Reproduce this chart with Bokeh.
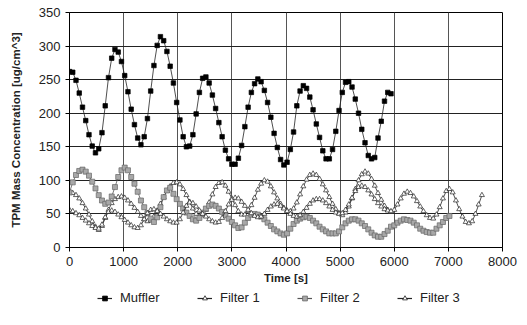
from bokeh.plotting import figure
from bokeh.layouts import column
from bokeh.models import Legend, LegendItem, FixedTicker, Range1d
from bokeh.embed import file_html
from bokeh.resources import INLINE

STEP = 60

muffler = [262, 261, 249, 230, 209, 189, 168, 151, 141, 147,
           171, 211, 253, 282, 295, 291, 277, 256, 232, 206,
           183, 163, 153, 165, 192, 233, 271, 301, 314, 308,
           292, 270, 245, 216, 190, 165, 150, 151, 168, 199,
           231, 252, 254, 245, 227, 207, 186, 165, 145, 132,
           124, 124, 133, 152, 180, 209, 231, 244, 251, 247,
           234, 216, 194, 170, 149, 131, 123, 127, 146, 172,
           211, 233, 241, 237, 224, 205, 184, 164, 144, 132,
           132, 146, 173, 204, 231, 246, 247, 239, 221, 200,
           176, 156, 137, 132, 134, 163, 188, 218, 231, 229]

filter1 = [82, 81, 78, 73, 66, 58, 49, 39, 31, 26,
           32, 44, 56, 66, 72, 75, 76, 74, 70, 65,
           59, 53, 47, 42, 39, 40, 46, 55, 65, 75,
           84, 91, 96, 97, 94, 87, 78, 68, 58, 50,
           46, 48, 56, 67, 79, 90, 96, 97, 92, 83,
           73, 63, 54, 49, 49, 54, 63, 74, 86, 95,
           100, 98, 91, 82, 73, 65, 59, 55, 54, 58,
           67, 79, 91, 101, 108, 110, 108, 102, 94, 85,
           75, 65, 57, 51, 48, 52, 61, 73, 87, 100,
           109, 113, 110, 102, 92, 81, 71, 62, 56, 53,
           56, 64, 73, 80, 83, 81, 76, 69, 61, 54,
           48, 44, 43, 49, 60, 73, 84, 87, 82, 70,
           57, 46, 38, 36, 39, 50, 64, 78]

filter2 = [82, 97, 108, 114, 116, 113, 107, 98, 88, 78,
           70, 65, 67, 76, 90, 105, 115, 119, 115, 105,
           95, 83, 70, 60, 51, 43, 38, 45, 60, 75,
           85, 89, 80, 72, 65, 58, 52, 47, 42, 40,
           44, 52, 58, 62, 64, 62, 58, 53, 48, 43,
           38, 33, 29, 30, 37, 44, 49, 50, 49, 46,
           42, 37, 32, 27, 24, 21, 19, 21, 28, 35,
           40, 43, 45, 46, 44, 40, 36, 31, 27, 24,
           21, 21, 21, 24, 30, 36, 40, 42, 42, 40,
           36, 32, 27, 22, 18, 16, 16, 20, 25, 31,
           33, 37, 40, 42, 41, 40, 37, 33, 28, 25,
           23, 22, 22, 28, 33, 38, 44, 47]

filter3 = [56, 54, 51, 48, 44, 40, 36, 32, 29, 28,
           34, 45, 53, 55, 53, 49, 45, 41, 37, 33,
           30, 29, 33, 42, 51, 56, 57, 54, 50, 46,
           42, 39, 37, 37, 42, 52, 62, 67, 66, 61,
           55, 50, 46, 42, 39, 37, 38, 44, 54, 64,
           71, 74, 73, 68, 62, 56, 51, 47, 45, 46,
           50, 56, 61, 64, 65, 62, 58, 54, 50, 47,
           46, 48, 53, 59, 65, 70, 72, 72, 70, 66,
           61, 56, 52, 50, 51, 56, 64, 74, 84, 90,
           92, 90, 85, 79, 72, 66, 61, 57, 55, 54]

xticks = [0, 1000, 2000, 3000, 4000, 5000, 6000, 7000, 8000]
yticks = [0, 50, 100, 150, 200, 250, 300, 350]
legend_labels = ["Muffler", "Filter 1", "Filter 2", "Filter 3"]

p = figure(width=527, height=286, output_backend="svg", toolbar_location=None,
           x_range=Range1d(0, 8000), y_range=Range1d(0, 350),
           min_border_left=69, min_border_right=25, min_border_top=12,
           min_border_bottom=36)
p.background_fill_color = "white"
p.border_fill_color = "white"
p.outline_line_color = "black"
p.outline_line_width = 1

for ax in (p.xaxis[0], p.yaxis[0]):
    ax.major_label_text_font = "Liberation Sans"
    ax.major_label_text_font_size = "13px"
    ax.major_label_text_color = "#222222"
    ax.axis_label_text_font = "Liberation Sans"
    ax.axis_label_text_font_style = "bold"
    ax.axis_label_text_font_size = "11.5px"
    ax.axis_label_text_color = "#222222"
    ax.axis_line_color = "black"
    ax.major_tick_line_color = "black"
    ax.minor_tick_line_color = None
    ax.major_tick_out = 4
    ax.major_tick_in = 0

p.xaxis.ticker = FixedTicker(ticks=xticks)
p.yaxis.ticker = FixedTicker(ticks=yticks)
p.xaxis.axis_label = "Time [s]"
p.yaxis.axis_label = "TPM Mass Concentration [ug/cm^3]"
p.xaxis.axis_label_standoff = 3
p.yaxis.axis_label_standoff = 14

p.xgrid.grid_line_color = "#555555"
p.ygrid.grid_line_color = "#222222"

# legend strip
q = figure(width=527, height=30, output_backend="svg", toolbar_location=None,
           x_range=Range1d(0, 1), y_range=Range1d(0, 1),
           min_border_left=0, min_border_right=0, min_border_top=0,
           min_border_bottom=0)
q.axis.visible = False
q.grid.visible = False
q.outline_line_color = None
q.background_fill_color = "white"
q.border_fill_color = "white"

def tx(vals):
    return [i * STEP for i in range(len(vals))]

series = [
    (muffler, "square", "black", "black", 4.5, "#222222"),
    (filter1, "triangle", "white", "#222222", 5, "#222222"),
    (filter2, "square", "#a8a8a8", "#666666", 5, "#555555"),
    (filter3, "triangle", "white", "#222222", 5, "#222222"),
]
for k, (vals, marker, fill, line, size, lc) in enumerate(series):
    xs = tx(vals)
    p.line(xs, vals, line_color=lc, line_width=0.8)
    p.scatter(xs, vals, marker=marker, size=size, fill_color=fill,
              line_color=line, line_width=0.7)
    # legend swatch renderers, kept outside the strip's visible range
    l1 = q.line([-5, -4], [-5, -5], line_color=lc, line_width=1.2)
    l2 = q.scatter([-5], [-5], marker=marker, size=size, fill_color=fill,
                   line_color=line, line_width=0.8)
    leg = Legend(items=[LegendItem(label=legend_labels[k], renderers=[l1, l2])],
                 location=(28 + 100 * k, 11),
                 label_text_font="Liberation Sans", label_text_font_size="13px",
                 label_text_color="#222222", border_line_color=None,
                 background_fill_alpha=0, label_standoff=8,
                 glyph_width=15, glyph_height=12, padding=0, margin=0)
    q.add_layout(leg, "center")

layout = column(p, q, spacing=0)
open("out.html", "w").write(file_html(layout, INLINE))
